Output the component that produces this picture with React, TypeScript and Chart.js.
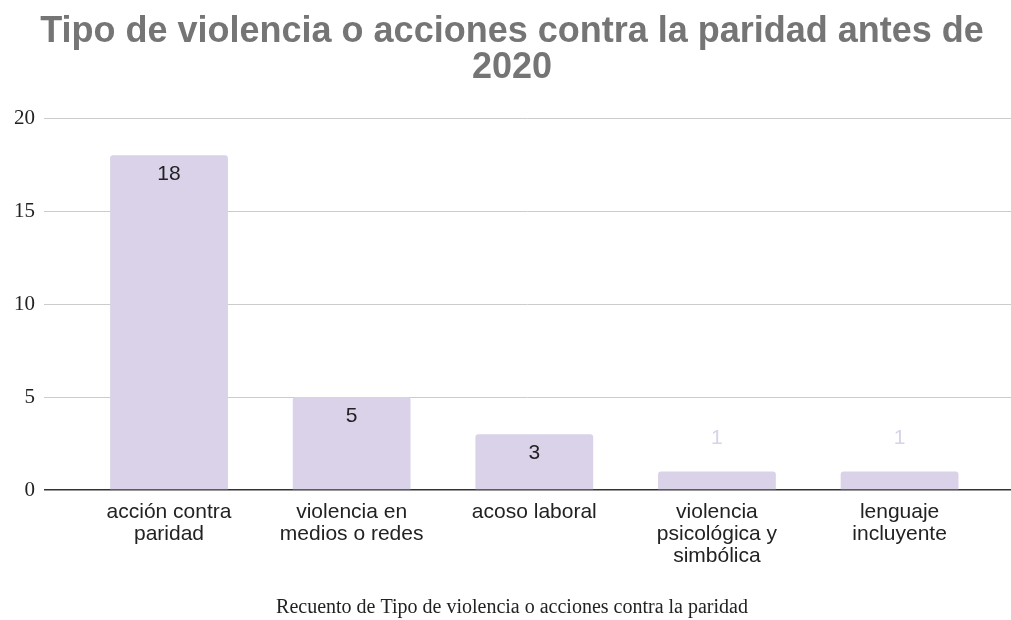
import React, { useEffect, useRef } from "react";
import { Chart, registerables } from "chart.js";

Chart.register(...registerables);

const titleLines = ["Tipo de violencia o acciones contra la paridad antes de", "2020"];
const caption = "Recuento de Tipo de violencia o acciones contra la paridad";
const categories: string[][] = [
  ["acción contra", "paridad"],
  ["violencia en", "medios o redes"],
  ["acoso laboral"],
  ["violencia", "psicológica y", "simbólica"],
  ["lenguaje", "incluyente"],
];
const counts = [18, 5, 3, 1, 1];
const yTickValues = [0, 5, 10, 15, 20];

const BAR_COLOR = "#d9d2e9";

const valueLabels = {
  id: "valueLabels",
  afterDatasetsDraw(chart: any) {
    const ctx = chart.ctx;
    const meta = chart.getDatasetMeta(0);
    ctx.save();
    ctx.font = "21px 'Liberation Sans', Arial, sans-serif";
    ctx.textAlign = "center";
    ctx.textBaseline = "middle";
    meta.data.forEach((bar: any, i: number) => {
      const h = bar.base - bar.y;
      if (h >= 34) {
        ctx.fillStyle = "#222";
        ctx.fillText(String(counts[i]), bar.x, bar.y + 19);
      } else {
        ctx.fillStyle = BAR_COLOR;
        ctx.fillText(String(counts[i]), bar.x, bar.y - 33);
      }
    });
    ctx.restore();
  },
};

export default function App() {
  const ref = useRef<HTMLCanvasElement>(null);
  useEffect(() => {
    document.body.style.margin = "0";
    const chart = new Chart(ref.current!, {
      type: "bar",
      data: {
        datasets: [
          {
            data: counts.map((v, i) => ({ x: i, y: v })),
            backgroundColor: BAR_COLOR,
            borderRadius: { topLeft: 3, topRight: 3, bottomLeft: 0, bottomRight: 0 },
            borderSkipped: "bottom",
            categoryPercentage: 1,
            barPercentage: 0.645,
          },
        ],
      },
      options: {
        animation: false,
        responsive: false,
        maintainAspectRatio: false,
        layout: { padding: { top: 14, right: 0, left: 13, bottom: 0 } },
        plugins: {
          legend: { display: false },
          tooltip: { enabled: false },
          title: {
            display: true,
            text: titleLines,
            color: "#757575",
            font: { family: "'Liberation Sans', Arial, sans-serif", size: 36, weight: "bold", lineHeight: 1.0 },
            padding: { top: 0, bottom: 32 },
          },
          subtitle: {
            display: true,
            position: "bottom",
            text: caption,
            color: "#222",
            font: { family: "'Liberation Serif', 'Times New Roman', serif", size: 20, lineHeight: 1.2 },
            padding: { top: 0, bottom: 0 },
          },
        },
        scales: {
          x: {
            type: "linear",
            min: -0.6845,
            max: 4.61,
            offset: false,
            grid: { display: false, drawTicks: false },
            border: { display: false },
            afterBuildTicks(scale: any) {
              scale.ticks = categories.map((_, i) => ({ value: i }));
            },
            afterFit(scale: any) {
              scale.height = 106;
            },
            ticks: {
              autoSkip: false,
              maxRotation: 0,
              padding: 11,
              color: "#222",
              font: { family: "'Liberation Sans', Arial, sans-serif", size: 21, lineHeight: 1.05 },
              callback: (v: any) => categories[Math.round(Number(v))] ?? "",
            },
          },
          y: {
            min: 0,
            max: 20,
            afterBuildTicks(scale: any) {
              scale.ticks = yTickValues.map((v) => ({ value: v }));
            },
            afterFit(scale: any) {
              scale.width = 31;
            },
            border: { display: false },
            grid: {
              drawTicks: false,
              color: (c: any) => (c.tick && c.tick.value === 0 ? "#333" : "#cccccc"),
              lineWidth: (c: any) => (c.tick && c.tick.value === 0 ? 1.5 : 1),
            },
            ticks: {
              padding: 9,
              color: "#222",
              font: { family: "'Liberation Serif', 'Times New Roman', serif", size: 21 },
            },
          },
        },
      },
      plugins: [valueLabels],
    } as any);
    return () => chart.destroy();
  }, []);
  return (
    <div style={{ width: 1011, height: 620 }}>
      <canvas ref={ref} width={1011} height={620} style={{ width: 1011, height: 620, display: "block" }} />
    </div>
  );
}
